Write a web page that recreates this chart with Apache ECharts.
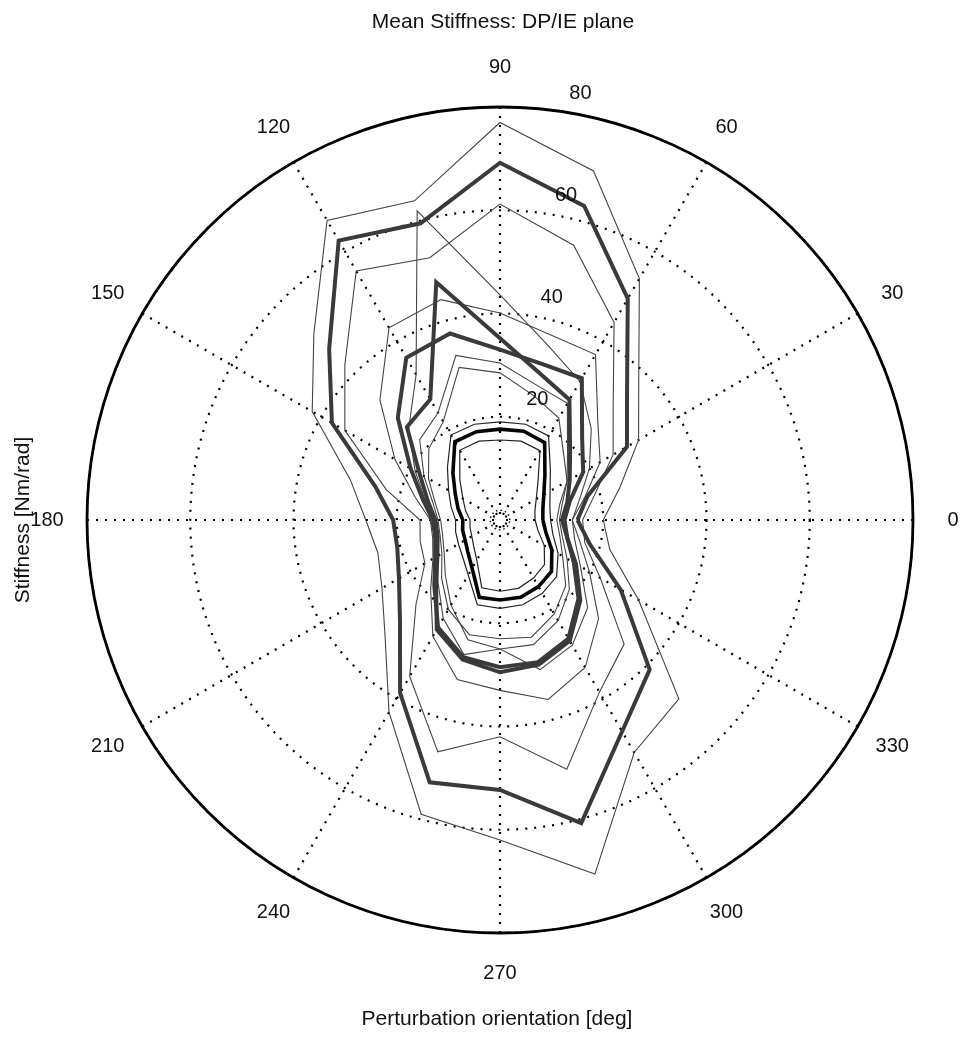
<!DOCTYPE html>
<html><head><meta charset="utf-8">
<script src="https://cdn.jsdelivr.net/npm/echarts@6/dist/echarts.min.js"></script>
<style>html,body{margin:0;padding:0;background:#fff}#c{width:962px;height:1057px}</style>
</head><body><div id="c"></div>
<script>
// Perturbation orientations (deg)
const angles = [0,15,30,45,60,75,90,105,120,135,150,165,180,195,210,225,240,255,270,285,300,315,330,345];
// Tick labels
const angleTicks = [0,30,60,90,120,150,180,210,240,270,300,330];
const radiusTicks = [20,40,60,80];
// Stiffness curves [Nm/rad], one value per orientation
const curveA  = [20,24,31,38,54,70,77,64,67,51,42,30,26,24.5,26.4,31.5,43,59,62,71,52,49,31,22];
const curveT1 = [15,17.5,28.4,34.8,49.5,63,69.2,59.5,62.5,46.8,37.6,25,20.7,20.6,22.6,27.4,38.7,52.6,52.3,60.8,47.3,41,27,18];
const curveB  = [16,19,25.3,31,44.2,55.1,61.2,52.6,55.7,42.5,34.7,22.8,15.5,16,16.8,23,35,46.5,42,50,38.5,34,22.4,17];
const curveC  = [14,16,20,25,31,35.2,43.6,62,32.5,25,19,15,13.5,13,14,17,22,27,25,30,28,24,18,15];
const curveT2 = [12,13.5,15.6,19.2,26.9,29.5,35.2,47.7,27,25.5,18,14.5,12.5,12.5,14,17.5,24.5,28,29.5,29,27,22,17,13.5];
const curveT3 = [12.5,14,18.6,22.5,31.7,31.3,33,37.4,36.3,28,20,15.5,13,13,14.5,18,24,27.5,28.5,28.5,26.5,21.5,16.5,13.5];
const curveD  = [14,17,22.4,26.8,37,37.2,40.1,44.2,43,32.9,23.5,17,13.5,13.5,15,19,26,32,33,36,33,27,20,16];
const curveE  = [11,12,15,18.5,26.1,27.1,30.4,33,24,22,17,13.5,12,12,13,16,20,23,23,23.5,21,18,14,12];
const curveF  = [11.5,12.5,15,17.5,22.8,25,28.5,30.6,22,19.5,16,13,11.5,11.5,12.5,15,19,24,25,25,22.5,19,15,12.5];
const curveT4 = [8.3,8.6,9.8,12.3,17.3,17.8,17.6,17.7,17.5,12.9,10,8.4,7.2,7.5,7.8,8.8,10.8,15.5,15.5,15.5,14.9,14.1,11.6,9.2];
const curveT4o= [9.8,10,11.2,13.8,18.8,19.2,19,19.2,19,14.4,11.5,9.8,8.6,8.9,9.3,10.2,12.3,17,17.1,17,16.4,15.5,13,10.6];
const curveT4i= [6.8,7,8.1,10.4,15.5,15.8,15.5,15.8,15.6,11,8.3,6.9,5.8,6,6.3,7.2,9,13.6,13.8,13.7,13,12.2,9.9,7.6];
const curveCen= [1.9,1.9,1.9,1.9,1.9,1.9,1.9,1.9,1.9,1.9,1.9,1.9,1.9,1.9,1.9,1.9,1.9,1.9,1.9,1.9,1.9,1.9,1.9,1.9];

const FONT = 'Liberation Sans, Arial, Helvetica, sans-serif';
const chart = echarts.init(document.getElementById('c'), null, {renderer:'canvas'});
function closed(vals){ const d = vals.map((v,i)=>[v, angles[i]]); d.push([vals[0], angles[0]]); return d; }
function line(vals, color, width, z, type){
  return {type:'line', coordinateSystem:'polar', polarIndex:0, data:closed(vals), symbol:'none',
    silent:true, animation:false, z:z, lineStyle:{color:color, width:width, type:type||'solid', join:'miter'}};
}
const dotted = {color:'#000', width:2.2, type:[2,7]};
const labelStyle = {color:'#111', fontSize:20, fontFamily:FONT, textBorderWidth:0, textShadowBlur:0, opacity:1};
const series = [
  line(curveA,  '#444', 1.1, 3),
  line(curveB,  '#444', 1.1, 3),
  line(curveC,  '#444', 1.1, 3),
  line(curveD,  '#444', 1.1, 3),
  line(curveE,  '#444', 1.1, 3),
  line(curveF,  '#444', 1.1, 3),
  line(curveT4o,'#222', 1.2, 3),
  line(curveT4i,'#222', 1.2, 3),
  line(curveT1, '#3a3a3a', 4, 4),
  line(curveT2, '#3a3a3a', 4, 4),
  line(curveT3, '#3a3a3a', 4, 4),
  line(curveT4, '#050505', 3.6, 5),
  line(curveCen,'#111', 1.5, 3, [1.5,3]),
  {type:'scatter', coordinateSystem:'polar', polarIndex:0, silent:true, animation:false, z:6,
   symbolSize:1, itemStyle:{color:'#fff', opacity:0},
   data: radiusTicks.map(t=>[t, 82]),
   label:Object.assign({show:true, position:'inside', offset:[23,-18], formatter:p=>String(p.value[0])}, labelStyle)},
  {type:'scatter', coordinateSystem:'polar', polarIndex:1, silent:true, animation:false,
   symbolSize:1, itemStyle:{color:'#fff', opacity:0},
   data: angleTicks.map(a=>[1, a]),
   label:Object.assign({show:true, position:'inside', formatter:p=>String(p.value[1])}, labelStyle)}
];
chart.setOption({
  animation:false,
  backgroundColor:'#fff',
  polar:[{center:[500,520], radius:413},{center:[500,520], radius:453}],
  angleAxis:[
    {polarIndex:0, type:'value', min:0, max:360, interval:30, startAngle:0, clockwise:false,
     axisLine:{show:true, lineStyle:{color:'#000', width:2.8}}, axisTick:{show:false},
     axisLabel:{show:false}, splitLine:{show:true, lineStyle:dotted}},
    {polarIndex:1, type:'value', min:0, max:360, interval:30, startAngle:0, clockwise:false,
     axisLine:{show:false}, axisTick:{show:false}, axisLabel:{show:false}, splitLine:{show:false}}
  ],
  radiusAxis:[
    {polarIndex:0, type:'value', min:0, max:80, interval:20,
     axisLine:{show:false}, axisTick:{show:false}, axisLabel:{show:false},
     splitLine:{show:true, lineStyle:dotted}},
    {polarIndex:1, type:'value', min:0, max:1,
     axisLine:{show:false}, axisTick:{show:false}, axisLabel:{show:false}, splitLine:{show:false}}
  ],
  graphic:[
    {type:'text', x:503, y:22, style:{text:'Mean Stiffness: DP/IE plane', font:'21px '+FONT, fill:'#111', textAlign:'center', textVerticalAlign:'middle'}},
    {type:'text', x:497, y:1019, style:{text:'Perturbation orientation [deg]', font:'21px '+FONT, fill:'#111', textAlign:'center', textVerticalAlign:'middle'}},
    {type:'text', x:23, y:520, rotation:Math.PI/2, style:{text:'Stiffness [Nm/rad]', font:'21px '+FONT, fill:'#111', textAlign:'center', textVerticalAlign:'middle'}}
  ],
  series: series
});
</script></body></html>
